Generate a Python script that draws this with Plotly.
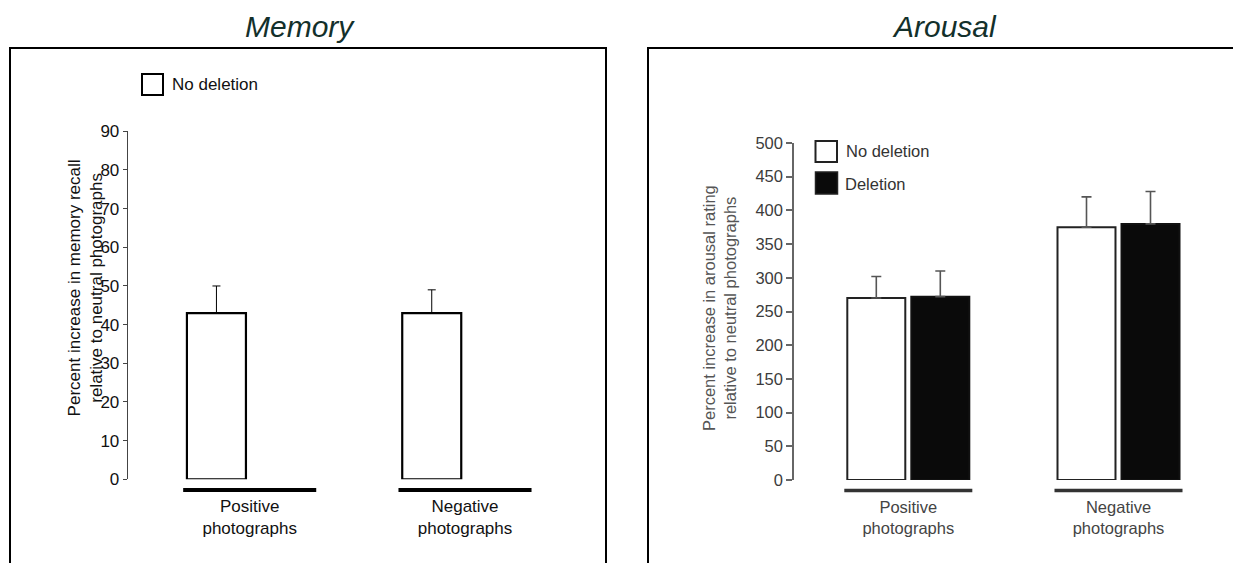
import plotly.graph_objects as go

# ---------------- data ----------------
categories = ["Positive", "Negative"]
category_labels = ["Positive<br>photographs", "Negative<br>photographs"]

memory_no_deletion = [43, 43]
memory_no_deletion_err = [7, 6]

arousal_no_deletion = [270, 375]
arousal_no_deletion_err = [32, 45]
arousal_deletion = [272, 380]
arousal_deletion_err = [38, 48]

memory_ticks = [0, 10, 20, 30, 40, 50, 60, 70, 80, 90]
arousal_ticks = [0, 50, 100, 150, 200, 250, 300, 350, 400, 450, 500]

series_names = ["No deletion", "Deletion"]

# ---------------- layout helpers ----------------
W, H = 1233, 563
FONT = "Arial, Liberation Sans, Helvetica, sans-serif"


def px(x):
    return x / W


def py(y):
    return 1 - y / H


xpos = list(range(len(categories)))

# group geometry (fractions of category spacing)
L_GROUP, L_GGAP = 0.618, 0.113
R_GROUP, R_GGAP = 0.609, 0.094


def bar_geom(group, ggap, k, n=2):
    slot = group / n
    width = slot * (1 - ggap)
    offset = -group / 2 + k * slot + slot * ggap / 2
    return width, offset


fig = go.Figure()

# ---- Memory panel ----
w, off = bar_geom(L_GROUP, L_GGAP, 0)
fig.add_trace(go.Bar(
    x=xpos, y=memory_no_deletion, name=series_names[0],
    width=w, offset=off,
    marker=dict(color="white", line=dict(color="black", width=2.2)),
    error_y=dict(type="data", array=memory_no_deletion_err,
                 arrayminus=[0] * len(categories), symmetric=False,
                 color="black", thickness=1, width=4),
    xaxis="x", yaxis="y", showlegend=False))

# ---- Arousal panel ----
for k, (vals, errs, fill, lc) in enumerate([
        (arousal_no_deletion, arousal_no_deletion_err, "white", "#222222"),
        (arousal_deletion, arousal_deletion_err, "#0a0a0a", "#111111")]):
    w, off = bar_geom(R_GROUP, R_GGAP, k)
    fig.add_trace(go.Bar(
        x=xpos, y=vals, name=series_names[k],
        width=w, offset=off,
        marker=dict(color=fill, line=dict(color=lc, width=2)),
        error_y=dict(type="data", array=errs,
                     arrayminus=[0] * len(categories), symmetric=False,
                     color="#555555", thickness=1.6, width=5),
        xaxis="x2", yaxis="y2", showlegend=False))

# axis pixel geometry
L_AX, L_RIGHT, L_C0, L_PPU = 127.7, 600, 249.7, 215.3
R_AX, R_RIGHT, R_C0, R_PPU = 794, 1233, 908.3, 210.2

fig.update_layout(
    template="none",
    width=W, height=H, autosize=False,
    margin=dict(l=0, r=0, t=0, b=0, pad=0, autoexpand=False),
    paper_bgcolor="white", plot_bgcolor="rgba(0,0,0,0)",
    barmode="overlay",
    showlegend=False,
    font=dict(family=FONT, color="#111111", size=17),
    xaxis=dict(domain=[px(L_AX), px(L_RIGHT)],
               range=[(L_AX - L_C0) / L_PPU, (L_RIGHT - L_C0) / L_PPU],
               anchor="y", showgrid=False, zeroline=False, showline=False,
               automargin=False,
               tickvals=xpos, ticktext=category_labels, ticks="",
               ticklabelstandoff=15,
               tickfont=dict(size=17, color="#111111", family=FONT)),
    yaxis=dict(domain=[py(479.3), py(131.3)], range=[0, 90],
               anchor="x", showgrid=False, zeroline=False, automargin=False,
               showline=True, linecolor="#444444", linewidth=1,
               ticks="outside", ticklen=4, tickcolor="#444444", tickwidth=1,
               tickvals=memory_ticks,
               tickfont=dict(size=17, color="#111111", family=FONT)),
    xaxis2=dict(domain=[px(R_AX), 1.0],
                range=[(R_AX - R_C0) / R_PPU, (R_RIGHT - R_C0) / R_PPU],
                anchor="y2", showgrid=False, zeroline=False, showline=False,
                automargin=False,
                tickvals=xpos, ticktext=category_labels, ticks="",
                ticklabelstandoff=15,
                tickfont=dict(size=16.5, color="#444444", family=FONT)),
    yaxis2=dict(domain=[py(480), py(143)], range=[0, 500],
                anchor="x2", showgrid=False, zeroline=False, automargin=False,
                showline=True, linecolor="#666666", linewidth=1.5,
                ticks="outside", ticklen=6, tickcolor="#666666", tickwidth=1.5,
                tickvals=arousal_ticks,
                tickfont=dict(size=16.5, color="#3c3c3c", family=FONT)),
)

shapes = []
# panel frames
shapes.append(dict(type="rect", xref="paper", yref="paper",
                   x0=px(10), x1=px(606), y0=-0.2, y1=py(48),
                   line=dict(color="black", width=2), fillcolor="rgba(0,0,0,0)", layer="below"))
shapes.append(dict(type="rect", xref="paper", yref="paper",
                   x0=px(648), x1=1.2, y0=-0.2, y1=py(48),
                   line=dict(color="black", width=2), fillcolor="rgba(0,0,0,0)", layer="below"))

# category underlines
for i in xpos:
    shapes.append(dict(type="line", xref="x", yref="paper",
                       x0=i - L_GROUP / 2, x1=i + L_GROUP / 2, y0=py(490), y1=py(490),
                       line=dict(color="black", width=4)))
    shapes.append(dict(type="line", xref="x2", yref="paper",
                       x0=i - R_GROUP / 2, x1=i + R_GROUP / 2, y0=py(490.5), y1=py(490.5),
                       line=dict(color="#333333", width=3.5)))

# legend squares
shapes.append(dict(type="rect", xref="paper", yref="paper",
                   x0=px(142), x1=px(163), y0=py(95), y1=py(74),
                   line=dict(color="black", width=2), fillcolor="white"))
shapes.append(dict(type="rect", xref="paper", yref="paper",
                   x0=px(815.5), x1=px(837), y0=py(162), y1=py(141),
                   line=dict(color="#222222", width=2), fillcolor="white"))
shapes.append(dict(type="rect", xref="paper", yref="paper",
                   x0=px(815.5), x1=px(837.5), y0=py(194), y1=py(172),
                   line=dict(color="#222222", width=1.5), fillcolor="#0a0a0a"))
fig.update_layout(shapes=shapes)

annotations = [
    dict(text="<i>Memory</i>", x=px(300), y=py(26.6), xref="paper", yref="paper",
         xanchor="center", yanchor="middle", showarrow=False,
         font=dict(size=30, color="#13302b", family=FONT)),
    dict(text="<i>Arousal</i>", x=px(944.5), y=py(26.6), xref="paper", yref="paper",
         xanchor="center", yanchor="middle", showarrow=False,
         font=dict(size=30, color="#13302b", family=FONT)),
    dict(text=series_names[0], x=px(170), y=py(84.5), xref="paper", yref="paper",
         xanchor="left", yanchor="middle", showarrow=False,
         font=dict(size=17, color="#111111", family=FONT)),
    dict(text=series_names[0], x=px(844), y=py(151), xref="paper", yref="paper",
         xanchor="left", yanchor="middle", showarrow=False,
         font=dict(size=16.5, color="#333333", family=FONT)),
    dict(text=series_names[1], x=px(843), y=py(184), xref="paper", yref="paper",
         xanchor="left", yanchor="middle", showarrow=False,
         font=dict(size=16.5, color="#333333", family=FONT)),
    dict(text="Percent increase in memory recall<br>relative to neutral photographs",
         x=px(85.4), y=py(288), xref="paper", yref="paper", textangle=-90,
         xanchor="center", yanchor="middle", showarrow=False,
         font=dict(size=17, color="#111111", family=FONT)),
    dict(text="Percent increase in arousal rating<br>relative to neutral photographs",
         x=px(720), y=py(308), xref="paper", yref="paper", textangle=-90,
         xanchor="center", yanchor="middle", showarrow=False,
         font=dict(size=16.5, color="#555555", family=FONT)),
]
fig.update_layout(annotations=annotations)

fig.write_html("out.html")
